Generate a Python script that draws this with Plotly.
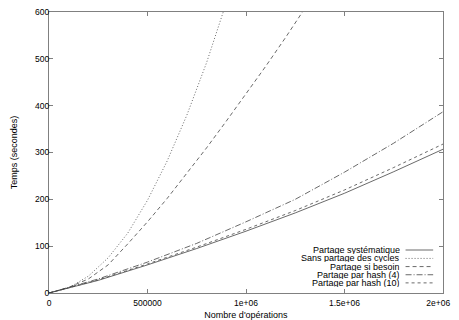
import plotly.graph_objects as go

# Data (x in operations, y in seconds)
x_ops = [0, 100000, 200000, 300000, 400000, 500000, 600000, 700000, 800000, 900000,
         1000000, 1100000, 1200000, 1300000, 1400000]
sans_partage = [0, 11, 36, 75, 128, 198, 282, 380, 492, 614, 748, None, None, None, None]
si_besoin = [0, 12, 30, 60, 105, 152, 202, 255, 310, 367, 425, 484, 545, 606, 672]

x_low = [0, 250000, 500000, 750000, 1000000, 1250000, 1500000, 1750000, 2000000]
hash4 = [0, 30, 66, 106, 152, 200, 258, 320, 387]
hash10 = [0, 28, 62, 98, 136, 176, 220, 268, 318]
systematique = [0, 27, 60, 95, 132, 171, 213, 259, 307]

x_tickvals = [0, 500000, 1000000, 1500000, 2000000]
x_ticktext = ["0", "500000", "1e+06", "1.5e+06", "2e+06\u00a0\u00a0\u00a0\u00a0"]
y_tickvals = [0, 100, 200, 300, 400, 500, 600]

series = [
    ("Partage systématique", x_low, systematique, "solid"),
    ("Sans partage des cycles", x_ops, sans_partage, "1px,2px"),
    ("Partage si besoin", x_ops, si_besoin, "4px,3px"),
    ("Partage par hash (4)", x_low, hash4, "6px,2px,1px,2px"),
    ("Partage par hash (10)", x_low, hash10, "3px,3px"),
]

FONT = "Liberation Sans, Arial, Helvetica, sans-serif"
LINE = "#444444"
fig = go.Figure()
for name, xs, ys, dash in series:
    fig.add_trace(go.Scatter(x=xs, y=ys, mode="lines", name=name,
                             line=dict(color=LINE, width=0.8, dash=dash),
                             showlegend=False, connectgaps=False))

# gnuplot-style legend: right-aligned text, sample on the right
leg_y = [0.153, 0.123, 0.094, 0.065, 0.036]
for (name, xs, ys, dash), ly in zip(series, leg_y):
    fig.add_annotation(x=0.896, y=ly, xref="paper", yref="paper", text=name,
                       showarrow=False, xanchor="right", yanchor="middle",
                       height=8,
                       font=dict(family=FONT, size=9, color="#000000"))
    fig.add_shape(type="line", xref="paper", yref="paper", x0=0.905, x1=0.975,
                  y0=ly, y1=ly, line=dict(color=LINE, width=0.8, dash=dash))

axis_common = dict(showline=True, linecolor="#808080", linewidth=1, mirror="ticks",
                   ticks="inside", ticklen=4, tickcolor="#808080", showgrid=False,
                   zeroline=False, tickfont=dict(family=FONT, size=8.5, color="#000000"),
                   automargin=False, ticklabeloverflow="allow")
fig.update_xaxes(range=[0, 2000000], tickvals=x_tickvals, ticktext=x_ticktext,
                 ticklabelstandoff=2,
                 title=dict(text="Nombre d'opérations", standoff=6,
                            font=dict(family=FONT, size=9, color="#000000")),
                 **axis_common)
fig.update_yaxes(range=[0, 600], tickvals=y_tickvals, ticklabelstandoff=-3,
                 title=dict(text="Temps (secondes)", standoff=15,
                            font=dict(family=FONT, size=9, color="#000000")),
                 **axis_common)
fig.update_layout(width=451, height=312, margin=dict(l=41, r=16, t=4, b=27),
                  plot_bgcolor="white", paper_bgcolor="white", showlegend=False)
fig.write_html("out.html")
